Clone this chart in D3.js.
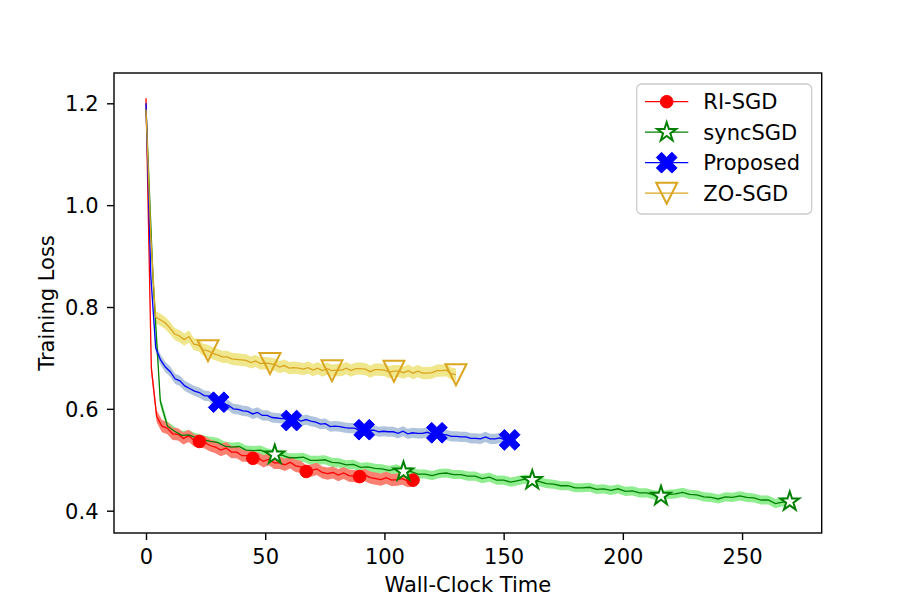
<!DOCTYPE html>
<html>
<head>
<meta charset="utf-8">
<script src="https://cdn.jsdelivr.net/npm/d3@7"></script>
<style>
  body { margin: 0; background: #fff; }
  text { font-family: "DejaVu Sans", sans-serif; fill: #000; }
</style>
</head>
<body>
<svg id="chart"></svg>
<script>
// training loss curves
const riEnd = 112;        // last wall-clock time of each run
const syncEnd = 270;
const propEnd = 152.5;
const zoEnd = 130;

const riLoss = [1.210, 0.680, 0.585, 0.566, 0.562, 0.551, 0.550, 0.542, 0.547, 0.538,
  0.536, 0.534, 0.528, 0.525, 0.519, 0.523, 0.515, 0.515, 0.508, 0.508,
  0.503, 0.503, 0.497, 0.501, 0.494, 0.494, 0.490, 0.495, 0.488, 0.486,
  0.477, 0.479, 0.482, 0.475, 0.473, 0.475, 0.470, 0.474, 0.469, 0.468,
  0.467, 0.470, 0.465, 0.463, 0.461, 0.465, 0.460, 0.461, 0.463, 0.458, 0.460];

const syncLoss = [1.190, 0.850, 0.615, 0.566, 0.556, 0.548, 0.549, 0.543, 0.539, 0.536,
  0.534, 0.527, 0.525, 0.526, 0.519, 0.518, 0.519, 0.513, 0.510, 0.509,
  0.504, 0.504, 0.505, 0.499, 0.499, 0.500, 0.495, 0.494, 0.490, 0.491,
  0.485, 0.486, 0.483, 0.482, 0.479, 0.482, 0.477, 0.477, 0.472, 0.472,
  0.469, 0.473, 0.474, 0.471, 0.471, 0.468, 0.468, 0.463, 0.466, 0.460,
  0.460, 0.456, 0.459, 0.462, 0.460, 0.457, 0.453, 0.452, 0.449, 0.449,
  0.445, 0.445, 0.446, 0.442, 0.443, 0.440, 0.443, 0.438, 0.439, 0.435,
  0.435, 0.431, 0.429, 0.432, 0.433, 0.436, 0.432, 0.431, 0.427, 0.426,
  0.423, 0.427, 0.426, 0.429, 0.426, 0.425, 0.421, 0.421, 0.414, 0.417, 0.418];

const propLoss = [1.200, 0.860, 0.720, 0.696, 0.682, 0.673, 0.659, 0.655, 0.645, 0.640,
  0.635, 0.632, 0.626, 0.625, 0.615, 0.613, 0.610, 0.607, 0.600, 0.599,
  0.596, 0.595, 0.590, 0.593, 0.587, 0.587, 0.583, 0.582, 0.581, 0.581,
  0.577, 0.580, 0.576, 0.579, 0.576, 0.574, 0.570, 0.571, 0.565, 0.566,
  0.565, 0.563, 0.562, 0.562, 0.558, 0.559, 0.558, 0.558, 0.555, 0.556,
  0.555, 0.555, 0.552, 0.556, 0.551, 0.553, 0.552, 0.552, 0.554, 0.551,
  0.553, 0.550, 0.549, 0.546, 0.546, 0.545, 0.545, 0.542, 0.542, 0.541,
  0.545, 0.541, 0.541, 0.543, 0.539, 0.539];

const zoLoss = [1.188, 0.940, 0.780, 0.775, 0.769, 0.759, 0.747, 0.743, 0.736, 0.742,
  0.727, 0.725, 0.716, 0.714, 0.709, 0.706, 0.702, 0.702, 0.698, 0.697,
  0.696, 0.695, 0.691, 0.694, 0.689, 0.690, 0.689, 0.687, 0.682, 0.685,
  0.680, 0.681, 0.680, 0.678, 0.681, 0.676, 0.680, 0.675, 0.679, 0.675,
  0.676, 0.676, 0.680, 0.675, 0.679, 0.679, 0.678, 0.673, 0.677, 0.677,
  0.676, 0.672, 0.674, 0.674, 0.671, 0.675, 0.670, 0.674, 0.670, 0.670,
  0.671, 0.675, 0.675, 0.676, 0.669, 0.667];

// spread of the shaded band (+/-)
const riStd = 0.012;
const syncStd = 0.009;
const propStd = 0.010;
const zoStd = 0.012;

const seriesNames = ['RI-SGD', 'syncSGD', 'Proposed', 'ZO-SGD'];
const xTicks = [0, 50, 100, 150, 200, 250];
const yTicks = [0.4, 0.6, 0.8, 1.0, 1.2];

const W = 913, H = 609;
const plotL = 114, plotR = 821.7, plotT = 73, plotB = 533;
const FONT = 21;

const svg = d3.select('#chart').attr('width', W).attr('height', H);

const x = d3.scaleLinear().domain([-13.42, 283.4]).range([plotL, plotR]);
const y = d3.scaleLinear().domain([0.3562, 1.2595]).range([plotB, plotT]);

function build(loss, end, std) {
  const n = loss.length;
  return loss.map((v, i) => ({ t: end * i / (n - 1), v: v, s: std }));
}

const series = [
  { name: seriesNames[0], pts: build(riLoss, riEnd, riStd), line: 'red', band: '#fa8072', mark: 'circle' },
  { name: seriesNames[1], pts: build(syncLoss, syncEnd, syncStd), line: 'green', band: '#90ee90', mark: 'star' },
  { name: seriesNames[2], pts: build(propLoss, propEnd, propStd), line: 'blue', band: '#b0c4de', mark: 'X' },
  { name: seriesNames[3], pts: build(zoLoss, zoEnd, zoStd), line: 'goldenrod', band: '#f0e68c', mark: 'tri' }
];

// marker shapes (centered on 0,0)
function markerPath(kind) {
  if (kind === 'star') {
    const R = 10, r = R * 0.381966;
    const p = [];
    for (let k = 0; k < 10; k++) {
      const a = -Math.PI / 2 + k * Math.PI / 5;
      const rr = k % 2 ? r : R;
      p.push([rr * Math.cos(a), rr * Math.sin(a)]);
    }
    return 'M' + p.map(d => d.join(',')).join('L') + 'Z';
  }
  if (kind === 'X') {
    const s = 22 / 6;
    const plus = [[-1,-3],[1,-3],[1,-1],[3,-1],[3,1],[1,1],[1,3],[-1,3],[-1,1],[-3,1],[-3,-1],[-1,-1]];
    const c = Math.SQRT1_2;
    const p = plus.map(d => [(d[0] - d[1]) * c * s, (d[0] + d[1]) * c * s]);
    return 'M' + p.map(d => d.join(',')).join('L') + 'Z';
  }
  if (kind === 'tri') {
    const h = 10.5;
    return `M${-h},${-h}L${h},${-h}L0,${h}Z`;
  }
  return null;
}

function drawMarker(g, kind, color, cx, cy) {
  if (kind === 'circle') {
    g.append('circle').attr('cx', cx).attr('cy', cy).attr('r', 6.3)
      .style('fill', color).style('stroke', color).style('stroke-width', 1);
    return;
  }
  const p = g.append('path')
    .attr('d', markerPath(kind))
    .attr('transform', `translate(${cx},${cy})`)
    .style('stroke', color)
    .style('stroke-linejoin', 'miter');
  if (kind === 'star') p.style('fill', '#fff').style('stroke-width', 2);
  if (kind === 'X') p.style('fill', color).style('stroke-width', 1);
  if (kind === 'tri') p.style('fill', 'none').style('stroke-width', 2);
}

const area = d3.area()
  .x(d => x(d.t))
  .y0(d => y(d.v - d.s))
  .y1(d => y(d.v + d.s));

const line = d3.line()
  .x(d => x(d.t))
  .y(d => y(d.v));

// bands first (red band ends up above green band like the original)
const bandOrder = [3, 2, 1, 0];
bandOrder.forEach(i => {
  svg.append('path')
    .datum(series[i].pts)
    .attr('d', area)
    .style('fill', series[i].band)
    .style('stroke', 'none');
});

series.forEach(s => {
  svg.append('path')
    .datum(s.pts)
    .attr('d', line)
    .style('fill', 'none')
    .style('stroke', s.line)
    .style('stroke-width', 1.3);
});

series.forEach(s => {
  const g = svg.append('g');
  const every = (s.pts.length - 1) / 5;
  for (let k = 1; k <= 5; k++) {
    const d = s.pts[Math.round(k * every)];
    drawMarker(g, s.mark, s.line, x(d.t), y(d.v));
  }
});

// axes
const xAxis = svg.append('g')
  .attr('transform', `translate(0,${plotB})`)
  .call(d3.axisBottom(x).tickValues(xTicks).tickSize(7).tickPadding(9).tickFormat(d3.format('d')));
const yAxis = svg.append('g')
  .attr('transform', `translate(${plotL},0)`)
  .call(d3.axisLeft(y).tickValues(yTicks).tickSize(7).tickPadding(8.5).tickFormat(d3.format('.1f')));

[xAxis, yAxis].forEach(a => {
  a.select('.domain').remove();
  a.selectAll('.tick line').style('stroke', '#000').style('stroke-width', 1.4);
  a.selectAll('.tick text').style('font-size', FONT + 'px').style('font-family', '"DejaVu Sans", sans-serif');
});
yAxis.selectAll('.tick text').attr('dy', '0.35em');

svg.append('rect')
  .attr('x', plotL).attr('y', plotT)
  .attr('width', plotR - plotL).attr('height', plotB - plotT)
  .style('fill', 'none').style('stroke', '#000').style('stroke-width', 1.4);

svg.append('text')
  .attr('x', (plotL + plotR) / 2).attr('y', 592)
  .attr('text-anchor', 'middle')
  .style('font-size', FONT + 'px')
  .text('Wall-Clock Time');

svg.append('text')
  .attr('transform', `translate(54,${(plotT + plotB) / 2}) rotate(-90)`)
  .attr('text-anchor', 'middle')
  .style('font-size', FONT + 'px')
  .text('Training Loss');

// legend
const leg = svg.append('g');
leg.append('rect')
  .attr('x', 636.7).attr('y', 84).attr('width', 175).attr('height', 130)
  .attr('rx', 5)
  .style('fill', '#fff').style('fill-opacity', 0.8)
  .style('stroke', '#ccc').style('stroke-width', 1.3);

series.forEach((s, i) => {
  const ry = 101.7 + i * 30.5;
  leg.append('line')
    .attr('x1', 645).attr('x2', 688.3).attr('y1', ry).attr('y2', ry)
    .style('stroke', s.line).style('stroke-width', 1.3);
  drawMarker(leg, s.mark, s.line, 666.7, ry);
  leg.append('text')
    .attr('x', 703.3).attr('y', ry + 7.5)
    .style('font-size', FONT + 'px')
    .text(s.name);
});
</script>
</body>
</html>
